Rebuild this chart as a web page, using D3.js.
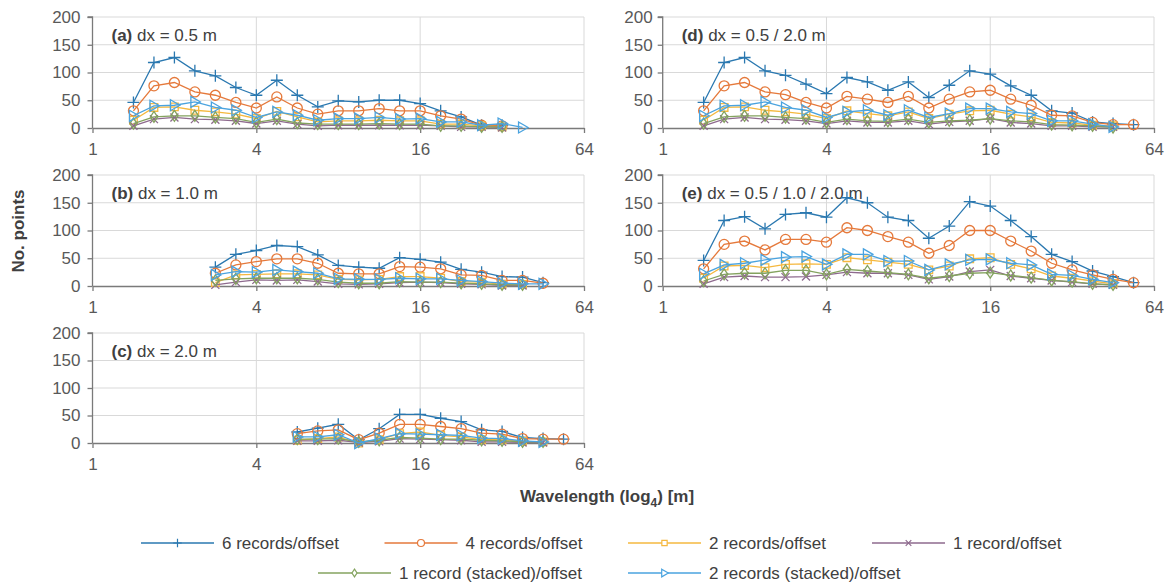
<!DOCTYPE html>
<html>
<head>
<meta charset="utf-8">
<style>
  body { margin: 0; background: #fff; }
  * { font-family: "Liberation Sans", Arial, sans-serif; }
</style>
<script src="https://d3js.org/d3.v7.min.js"></script>
</head>
<body>
<div id="chart"></div>
<script>
// wavelength grid (m), steps of 2^(1/4)
const wavelengths = [1.414, 1.682, 2, 2.378, 2.828, 3.364, 4, 4.757, 5.657, 6.727, 8, 9.514,
                     11.31, 13.45, 16, 19.03, 22.63, 26.91, 32, 38.05, 45.25, 53.82]

const seriesNames = ["6 records/offset", "4 records/offset", "2 records/offset", "1 record/offset",
                     "1 record (stacked)/offset", "2 records (stacked)/offset"]
const seriesColors = ["#2a78b0", "#e5793b", "#f5b83f", "#8e6a8e", "#84a35f", "#4aa3df"]

const yTicks = [0, 50, 100, 150, 200]
const xTicks = [1, 4, 16, 64]

// values per series, same order as seriesNames; start = index into wavelengths
const aStart = 0
const aValues = [
  [46, 118, 127, 103, 94, 73, 59, 86, 59, 38, 49, 47, 50, 50, 44, 31, 20, 5, 5],
  [31, 76, 82, 65, 59, 46, 36, 56, 36, 25, 31, 31, 35, 31, 31, 22, 16, 5, 4],
  [14, 37, 38, 32, 29, 25, 17, 30, 20, 11, 13, 13, 14, 13, 13, 7, 7, 4, 2],
  [4, 16, 19, 16, 15, 13, 8, 13, 7, 4, 5, 5, 5, 5, 5, 4, 2, 2, 1],
  [8, 20, 22, 22, 19, 17, 10, 16, 9, 7, 7, 7, 8, 7, 7, 4, 4, 2, 2],
  [22, 40, 41, 47, 37, 32, 19, 29, 23, 14, 17, 17, 19, 16, 17, 11, 11, 5, 8, 1]
]
const bStart = 4
const bValues = [
  [34, 57, 64, 73, 71, 56, 37, 34, 32, 51, 48, 43, 30, 25, 17, 16, 6],
  [23, 38, 44, 49, 49, 41, 23, 22, 22, 35, 34, 31, 20, 19, 10, 10, 5],
  [6, 20, 21, 22, 22, 20, 12, 11, 12, 17, 17, 14, 8, 7, 3, 3],
  [2, 7, 11, 10, 11, 8, 4, 3, 4, 6, 7, 6, 4, 3, 1, 1],
  [10, 13, 14, 14, 14, 12, 7, 5, 5, 8, 7, 7, 5, 4, 2, 2],
  [20, 26, 25, 29, 26, 23, 13, 12, 12, 14, 13, 13, 10, 8, 5, 4, 4]
]
const cStart = 8
const cValues = [
  [20, 27, 34, 6, 26, 52, 52, 45, 39, 24, 21, 10, 8, 7],
  [17, 22, 24, 6, 18, 34, 34, 30, 26, 18, 16, 8, 7, 7],
  [5, 8, 11, 0, 6, 17, 20, 14, 11, 6, 6, 3, 2],
  [4, 4, 5, 1, 3, 8, 7, 6, 5, 2, 2, 1, 1],
  [7, 7, 8, 2, 5, 10, 9, 7, 7, 5, 4, 2, 2],
  [11, 11, 15, 0, 8, 17, 16, 15, 14, 9, 8, 4, 2]
]
const dStart = 0
const dValues = [
  [46, 118, 127, 103, 95, 79, 62, 91, 83, 68, 83, 55, 77, 103, 97, 76, 59, 31, 27, 11, 8, 6],
  [31, 76, 82, 65, 60, 46, 36, 57, 52, 46, 57, 36, 52, 65, 68, 52, 41, 23, 22, 10, 6, 6],
  [14, 37, 38, 32, 29, 25, 17, 31, 26, 22, 29, 17, 25, 31, 32, 25, 20, 10, 9, 5, 4],
  [4, 16, 19, 16, 15, 13, 8, 13, 10, 10, 13, 7, 11, 13, 17, 10, 8, 4, 4, 2, 2],
  [8, 20, 22, 22, 19, 17, 10, 16, 13, 12, 16, 10, 13, 14, 17, 13, 11, 6, 5, 4, 1],
  [22, 40, 41, 47, 37, 32, 19, 29, 32, 23, 32, 19, 26, 35, 35, 29, 26, 13, 13, 7, 2]
]
const eStart = 0
const eValues = [
  [46, 118, 125, 103, 129, 132, 124, 159, 150, 124, 118, 86, 108, 152, 144, 118, 89, 57, 44, 27, 17, 6],
  [31, 75, 81, 65, 84, 84, 79, 105, 100, 89, 79, 59, 73, 100, 100, 81, 63, 41, 29, 20, 12, 6],
  [14, 36, 37, 33, 39, 40, 39, 51, 47, 43, 39, 29, 36, 49, 51, 39, 31, 18, 14, 9, 4],
  [4, 16, 18, 16, 16, 17, 20, 25, 23, 23, 20, 12, 17, 26, 29, 18, 14, 10, 7, 4, 2],
  [9, 21, 23, 23, 28, 28, 21, 30, 27, 24, 21, 14, 18, 23, 24, 19, 15, 10, 8, 4, 2],
  [22, 38, 41, 47, 52, 53, 39, 57, 57, 45, 45, 29, 39, 47, 48, 41, 38, 21, 19, 12, 6]
]

const panels = [
  {tag: "(a)", title: " dx = 0.5 m",              start: aStart, values: aValues, x0: 92.5, x1: 584, top: 17,  bot: 128, gap: 12},
  {tag: "(b)", title: " dx = 1.0 m",              start: bStart, values: bValues, x0: 92.5, x1: 584, top: 175, bot: 286, gap: 12},
  {tag: "(c)", title: " dx = 2.0 m",              start: cStart, values: cValues, x0: 92.5, x1: 584, top: 333, bot: 443, gap: 12},
  {tag: "(d)", title: " dx = 0.5 / 2.0 m",        start: dStart, values: dValues, x0: 662.7, x1: 1154, top: 17,  bot: 128, gap: 10},
  {tag: "(e)", title: " dx = 0.5 / 1.0 / 2.0 m",  start: eStart, values: eValues, x0: 662.7, x1: 1154, top: 175, bot: 286, gap: 10}
]

var w = 1169, h = 586
const gridColor = "#d9d9d9", axisColor = "#7a7a7a", tickText = "#595959", labelText = "#404040"

var svg = d3.select("#chart").append("svg")
  .attr("width", w).attr("height", h)

// marker shapes, drawn as strokes
function markerPath(i, s) {
  s = s || 1
  if (i == 0) return `M${-6*s},0H${6*s}M0,${-6*s}V${6*s}`
  if (i == 1) { let r = 5*s; return `M${r},0A${r},${r} 0 1,1 ${-r},0A${r},${r} 0 1,1 ${r},0Z` }
  if (i == 2) { let r = 3.8*s; return `M${-r},${-r}H${r}V${r}H${-r}Z` }
  if (i == 3) { let r = 4*s; return `M${-r},${-r}L${r},${r}M${-r},${r}L${r},${-r}` }
  if (i == 4) return `M0,${-5.5*s}L${3.6*s},0L0,${5.5*s}L${-3.6*s},0Z`
  return `M${-4*s},${-5.5*s}L${5.5*s},0L${-4*s},${5.5*s}Z`
}

panels.forEach(p => {
  let x = d3.scaleLog().base(4).domain([1, 64]).range([p.x0, p.x1])
  let y = d3.scaleLinear().domain([0, 200]).range([p.bot, p.top])
  let g = svg.append("g")

  // gridlines
  g.selectAll(".hgrid").data(yTicks.slice(1)).enter().append("line")
    .attr("x1", p.x0).attr("x2", p.x1).attr("y1", d => y(d)).attr("y2", d => y(d))
    .style("stroke", gridColor).style("stroke-width", 1)
  g.selectAll(".vgrid").data(xTicks.slice(1)).enter().append("line")
    .attr("x1", d => x(d)).attr("x2", d => x(d)).attr("y1", p.top).attr("y2", p.bot)
    .style("stroke", gridColor).style("stroke-width", 1)

  // axes
  let yAxis = g.append("g").attr("transform", `translate(${p.x0},0)`)
    .call(d3.axisLeft(y).tickValues(yTicks).tickSize(5).tickPadding(p.gap - 5))
  let xAxis = g.append("g").attr("transform", `translate(0,${p.bot})`)
    .call(d3.axisBottom(x).tickValues(xTicks).tickFormat(d3.format("d")).tickSize(5).tickSizeOuter(0))
  ;[yAxis, xAxis].forEach(a => {
    a.select(".domain").style("stroke", axisColor).style("stroke-width", 1.3)
    a.selectAll(".tick line").style("stroke", axisColor).style("stroke-width", 1.3)
    a.selectAll("text").style("font-size", "17px").style("fill", tickText)
  })
  xAxis.selectAll("text").attr("dy", null).attr("y", 27)
  yAxis.select(".domain").attr("d", `M-5,${y(200)}H0V${y(0)}`)

  // panel title
  let t = g.append("text").attr("x", p.x0 + 19).attr("y", p.top + 24)
    .style("font-size", "17px").style("fill", labelText)
  t.append("tspan").style("font-weight", "bold").text(p.tag)
  t.append("tspan").text(p.title)

  // series
  p.values.forEach((vals, si) => {
    let pts = vals.map((v, j) => ({wl: wavelengths[p.start + j], v: v}))
    g.append("path").datum(pts)
      .attr("d", d3.line().x(d => x(d.wl)).y(d => y(d.v)))
      .style("fill", "none").style("stroke", seriesColors[si]).style("stroke-width", 1.3)
    g.selectAll(".m" + si).data(pts).enter().append("path")
      .attr("transform", d => `translate(${x(d.wl)},${y(d.v)})`)
      .attr("d", markerPath(si))
      .style("fill", "none").style("stroke", seriesColors[si]).style("stroke-width", 1.3)
  })
})

// axis titles
svg.append("text")
  .attr("transform", "translate(24,231) rotate(-90)")
  .attr("text-anchor", "middle")
  .style("font-size", "17px").style("font-weight", "bold").style("fill", labelText)
  .text("No. points")

let xt = svg.append("text").attr("x", 607).attr("y", 502).attr("text-anchor", "middle")
  .style("font-size", "17px").style("font-weight", "bold").style("fill", labelText)
xt.append("tspan").text("Wavelength (log")
xt.append("tspan").attr("dy", 5).style("font-size", "12px").text("4")
xt.append("tspan").attr("dy", -5).text(") [m]")

// legend
const legendPos = [[141, 543], [384.5, 543], [628, 543], [872, 543], [318, 573], [628, 573]]
seriesNames.forEach((name, i) => {
  let lx = legendPos[i][0], ly = legendPos[i][1]
  let lg = svg.append("g").attr("transform", `translate(${lx},${ly})`)
  lg.append("line").attr("x1", 0).attr("x2", 73).attr("y1", 0).attr("y2", 0)
    .style("stroke", seriesColors[i]).style("stroke-width", 1.3)
  lg.append("path").attr("transform", "translate(36.5,0)").attr("d", markerPath(i, 0.7))
    .style("fill", "#fff").style("stroke", seriesColors[i]).style("stroke-width", 1.2)
  lg.append("text").attr("x", 81).attr("y", 6)
    .style("font-size", "17px").style("fill", labelText)
    .text(name)
})
</script>
</body>
</html>
